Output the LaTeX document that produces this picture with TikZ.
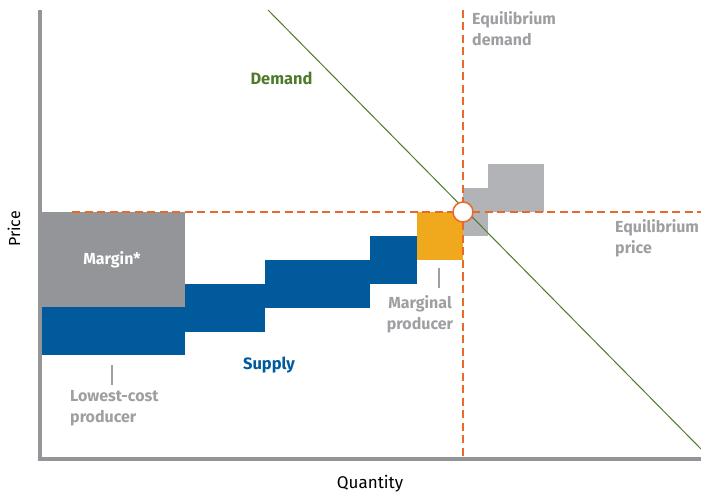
\documentclass[tikz,border=0pt]{standalone}
\usepackage{fontspec}
\setmainfont{Fira Sans}
\usetikzlibrary{calc}

\definecolor{axisgray}{HTML}{939598}
\definecolor{margingray}{HTML}{939598}
\definecolor{lightgray}{HTML}{B1B3B6}
\definecolor{labelgray}{HTML}{9D9FA2}
\definecolor{supplyblue}{HTML}{005A9C}
\definecolor{marginalorange}{HTML}{F0A81C}
\definecolor{eqorange}{HTML}{E8692A}
\definecolor{demandgreen}{HTML}{4D7A2B}

\tikzset{
  lbl/.style={font=\bfseries\fontsize{16}{21}\selectfont,text=labelgray,inner sep=0pt,align=left},
  eqline/.style={eqorange,line width=1.6pt,dash pattern=on 8pt off 4.5pt},
  tick/.style={labelgray,line width=1.2pt}
}

\begin{document}
\begin{tikzpicture}[x=1pt,y=-1pt]
    \useasboundingbox (0,0) rectangle (701,494);

    % producers
    \fill[margingray] (42,212) rectangle (185,307);
    \foreach \xa/\xb/\ya in {42/185/307,185/265/284,265/370/260,370/417/236}
             {
               \fill[supplyblue] (\xa,\ya) rectangle (\xb,\ya+48);
             }
    \fill[marginalorange] (417,212) rectangle (463,260);
    \fill[lightgray] (463,188) rectangle (488,236);
    \fill[lightgray] (488,164) rectangle (544,212);

    % equilibrium
    \draw[eqline] (72,212) -- (701,212);
    \draw[eqline] (463,10) -- (463,460);
    \draw[demandgreen,line width=1pt] (268,10) -- (701,449);
    \node[circle,draw=eqorange,fill=white,line width=1.5pt,minimum size=20pt,inner sep=0pt] (eq) at (463,212) {};

    % axes
    \draw[axisgray,line width=4pt] (40,10) -- (40,459) -- (701,459);
    \node[font=\fontsize{16}{18}\selectfont,rotate=90] (price) at (14,229) {Price};
    \node[font=\fontsize{17}{18}\selectfont] (quantity) at (370,484) {Quantity};

    % labels
    \node[font=\bfseries\fontsize{16}{18}\selectfont,text=white] (margin) at (112,260) {Margin*};
    \node[font=\bfseries\fontsize{16.4}{18}\selectfont,text=demandgreen] (demand) at (281.5,78) {Demand};
    \node[font=\bfseries\fontsize{16.5}{18}\selectfont,text=supplyblue] (supply) at (269,365) {Supply};
    \node[lbl,anchor=north west] (eqdemand) at (472,11) {Equilibrium\\demand};
    \node[lbl,anchor=north west] (eqprice) at (615,219) {Equilibrium\\price};
    \node[lbl,anchor=north,align=center] (marginal) at (420,295) {Marginal\\producer};
    \node[lbl,anchor=north west] (lowest) at (70,390) {Lowest-cost\\producer};

    \coordinate (margtick) at (439,268);
    \coordinate (lowtick) at (112,365);
    \draw[tick] (margtick) -- ++(0,20);
    \draw[tick] (lowtick) -- ++(0,20);
\end{tikzpicture}
\end{document}
